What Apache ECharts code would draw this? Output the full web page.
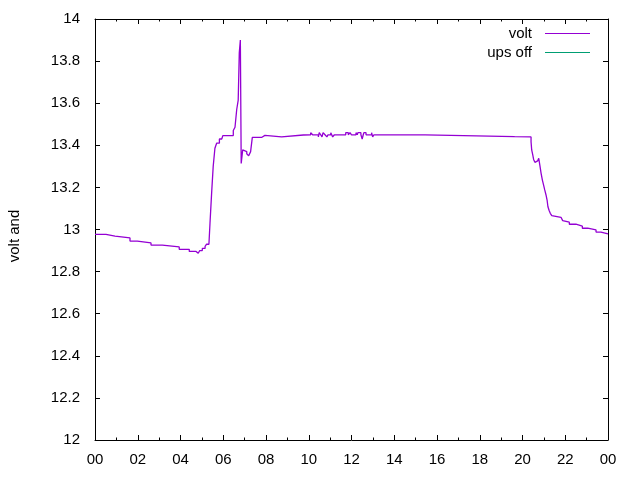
<!DOCTYPE html>
<html>
<head>
<meta charset="utf-8">
<script src="https://cdn.jsdelivr.net/npm/echarts@6/dist/echarts.min.js"></script>
<style>
html,body{margin:0;padding:0;background:#fff;}
#chart{width:640px;height:480px;}
</style>
</head>
<body>
<div id="chart"></div>
<script>
// hours of day (0-24) and battery voltage
var voltHours = [0, 0.515, 0.936, 1.637, 1.98, 2.62, 3.15, 3.94, 4.41, 4.73, 4.83, 4.90, 5.02, 5.15, 5.22, 5.33,
  5.38, 5.46, 5.53, 5.61, 5.69, 5.82, 5.93, 5.98, 6.35, 6.42, 6.47, 6.55, 6.63, 6.70, 6.75, 6.80, 6.84, 6.88, 6.91, 7.00, 7.10, 7.19, 7.28, 7.36,
  7.81, 7.95, 8.73, 9.75, 9.83, 10.09, 10.18, 10.45, 10.49, 10.56, 10.62, 10.67, 10.76, 10.85, 10.90, 11.03, 11.12, 11.20, 11.73, 11.85, 11.93, 12.0, 12.21, 12.27, 12.30, 12.44, 12.50, 12.55, 12.58, 12.68, 12.94, 12.99, 13.05,
  15.44, 19.63, 19.70,
  20.40, 20.43, 20.48, 20.52, 20.58, 20.63, 20.71, 20.76, 20.79, 20.82, 20.87, 20.93, 20.99, 21.04, 21.10, 21.15, 21.19, 21.25, 21.30, 21.37, 21.44, 21.80, 21.88, 21.91, 22.19, 22.50, 22.80, 23.05, 23.44, 23.67, 24];
var voltValues = [12.977, 12.969, 12.960, 12.945, 12.936, 12.926, 12.917, 12.906, 12.896, 12.887, 12.893, 12.90, 12.91, 12.92, 12.93, 12.937,
  13.03, 13.18, 13.30, 13.386, 13.41, 13.43, 13.438, 13.446, 13.438, 13.446, 13.47, 13.486, 13.57, 13.615, 13.84, 13.90, 13.314, 13.306, 13.378, 13.37, 13.36, 13.35, 13.37, 13.438,
  13.447, 13.44, 13.449, 13.44, 13.45, 13.46, 13.45, 13.44, 13.46, 13.45, 13.44, 13.46, 13.45, 13.44, 13.45, 13.46, 13.44, 13.45, 13.46, 13.45, 13.46, 13.45, 13.46, 13.45, 13.46, 13.45, 13.43, 13.45, 13.46, 13.45, 13.46, 13.44, 13.45,
  13.441, 13.449, 13.44,
  13.417, 13.378, 13.354, 13.333, 13.319, 13.326, 13.333, 13.338, 13.33, 13.30, 13.267, 13.235, 13.21, 13.188, 13.164, 13.14, 13.108, 13.089, 13.077, 13.066, 13.058, 13.05, 13.042, 13.035, 13.025, 13.016, 13.006, 12.998, 12.988, 12.979, 12.979];
var upsOffHours = [];
var upsOffValues = [];
var seriesNames = ['volt', 'ups off'];
var seriesColors = ['#9400d3', '#009e73'];
var yAxisTitle = 'volt and';

function pairs(xs, ys) { var out = []; for (var i = 0; i < xs.length; i++) out.push([xs[i], ys[i]]); return out; }

var FONT = 'Liberation Sans';
var chart = echarts.init(document.getElementById('chart'), null, {renderer: 'canvas'});
var xBase = {
  type: 'value', min: 0, max: 24, interval: 2,
  splitLine: {show: false},
  axisLine: {show: true, onZero: false, lineStyle: {color: '#000', width: 1}},
  axisTick: {show: true, inside: true, length: 5, lineStyle: {color: '#000'}},
  minorTick: {show: true, splitNumber: 2, length: 2.5, lineStyle: {color: '#000'}},
  minorSplitLine: {show: false}
};
var yBase = {
  type: 'value', min: 12, max: 14, interval: 0.2,
  splitLine: {show: false},
  axisLine: {show: true, onZero: false, lineStyle: {color: '#000', width: 1}},
  axisTick: {show: true, inside: true, length: 5, lineStyle: {color: '#000'}}
};
function legendFor(i, top) {
  return {
    data: [{name: seriesNames[i], itemStyle: {color: seriesColors[i]}}],
    right: 50, top: top, padding: 0, orient: 'vertical', align: 'right', icon: 'rect', itemWidth: 45, itemHeight: 1.2,
    itemStyle: {color: seriesColors[i]},
    textStyle: {fontFamily: FONT, fontSize: 15, color: '#000', padding: [0, 8, 0, 0]}
  };
}
var option = {
  animation: false,
  backgroundColor: '#fff',
  grid: {left: 95, right: 32, top: 19, bottom: 40, containLabel: false},
  legend: [legendFor(0, 26), legendFor(1, 45)],
  xAxis: [
    Object.assign({}, xBase, {position: 'bottom',
      axisLabel: {show: true, margin: 12, fontFamily: FONT, fontSize: 15, color: '#000',
        formatter: function (v) { var h = Math.round(v) % 24; return (h < 10 ? '0' : '') + h; }}}),
    Object.assign({}, xBase, {position: 'top', axisLabel: {show: false}})
  ],
  yAxis: [
    Object.assign({}, yBase, {position: 'left',
      axisLabel: {show: true, margin: 15, fontFamily: FONT, fontSize: 15, color: '#000'}}),
    Object.assign({}, yBase, {position: 'right', axisLabel: {show: false}})
  ],
  graphic: [{
    type: 'text', x: 15, y: 236, rotation: Math.PI / 2,
    style: {text: yAxisTitle, fontFamily: FONT, fontSize: 15, fill: '#000', align: 'center', verticalAlign: 'middle'}
  }],
  series: [
    {name: seriesNames[0], type: 'line', step: 'end', showSymbol: false, symbol: 'none',
     data: pairs(voltHours, voltValues), itemStyle: {color: seriesColors[0]}, lineStyle: {color: seriesColors[0], width: 1.3}},
    {name: seriesNames[1], type: 'line', showSymbol: false, symbol: 'none',
     data: pairs(upsOffHours, upsOffValues), itemStyle: {color: seriesColors[1]}, lineStyle: {color: seriesColors[1], width: 1.3}}
  ]
};
chart.setOption(option);
</script>
</body>
</html>
